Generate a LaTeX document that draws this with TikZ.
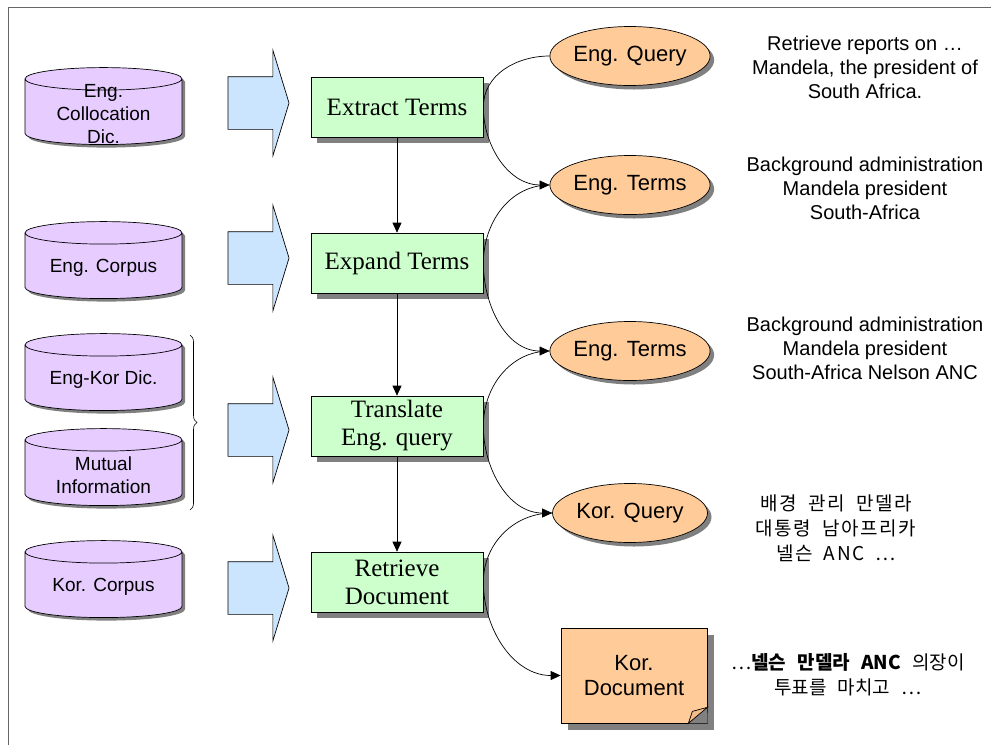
\documentclass[tikz,border=0pt]{standalone}
\usepackage{fontspec}
\setmainfont{Liberation Sans}
\newfontfamily\boxserif{Liberation Serif}
\newfontfamily\kor{Noto Sans CJK KR}
\usepackage{xcolor}
\usepackage{tikz}
\usetikzlibrary{shapes.geometric, shapes.arrows, arrows.meta, positioning, shadows, decorations.pathreplacing}
\definecolor{DBPurple}{RGB}{230,204,255}
\definecolor{StepGreen}{RGB}{204,255,204}
\definecolor{FeedBlue}{RGB}{204,229,255}
\definecolor{DataOrange}{RGB}{255,204,153}
\definecolor{FrameGray}{RGB}{102,102,102}
\newcommand{\korfont}{\kor\fontsize{19}{25}\selectfont\spaceskip=0.6em plus 0.1em\relax}
\tikzset{
    dbcyl/.style={cylinder, shape border rotate=90, aspect=0.15, draw, line width=0.7pt,
        fill=DBPurple, minimum width=157pt, minimum height=77pt,
        inner xsep=75pt, inner ysep=0pt,
        drop shadow={shadow xshift=3pt, shadow yshift=-3pt, fill=black!50, opacity=1}},
    dbtext/.style={align=center, inner sep=0pt, yshift=3.5pt, font=\fontsize{19}{23}\selectfont},
    feedarrow/.style={single arrow, draw, line width=0.7pt, fill=FeedBlue,
        inner xsep=0pt, inner ysep=26pt, minimum width=105pt, minimum height=61pt,
        single arrow head extend=26.5pt, single arrow tip angle=146},
    stepbox/.style={rectangle, draw, line width=0.7pt, fill=StepGreen,
        minimum width=172pt, minimum height=60pt, inner sep=0pt,
        align=center, font=\boxserif\fontsize{25}{28}\selectfont,
        drop shadow={shadow xshift=6pt, shadow yshift=-6pt, fill=black!50, opacity=1}},
    databall/.style={ellipse, draw, line width=0.7pt, fill=DataOrange,
        minimum width=155pt, minimum height=59pt, inner sep=0pt,
        font=\fontsize{22}{25}\selectfont,
        drop shadow={shadow xshift=4pt, shadow yshift=-4pt, fill=black!50, opacity=1}},
    docbox/.style={rectangle, draw, line width=0.7pt, fill=DataOrange,
        minimum width=146pt, minimum height=95pt, inner sep=0pt,
        align=center, font=\fontsize{22}{25}\selectfont,
        drop shadow={shadow xshift=7pt, shadow yshift=-7pt, fill=black!50, opacity=1}},
    notetext/.style={align=center, font=\fontsize{20}{24}\selectfont},
    kornote/.style={align=center, font=\korfont},
    flowarrow/.style={-{Triangle[length=10pt, width=9pt]}, line width=0.7pt},
    linkline/.style={line width=0.7pt},
}

\begin{document}
\begin{tikzpicture}[x=1pt, y=1pt]
    \useasboundingbox (0,0) rectangle (991,-745);
    % frame
    \draw[FrameGray, line width=1.5pt] (8.5,-745) -- (8.5,-7.5) -- (991,-7.5);

    % resources on the left
    \node[dbcyl, label={[dbtext]center:Eng.\\Collocation\\Dic.}] (colloc) at (103.5,-117.5) {};
    \node[dbcyl, label={[dbtext]center:Eng. Corpus}] (engcorpus) at (103.5,-271.5) {};
    \node[dbcyl, label={[dbtext]center:Eng-Kor Dic.}] (engkor) at (103.5,-383.5) {};
    \node[dbcyl, label={[dbtext]center:Mutual\\Information}] (mutual) at (103.5,-478.5) {};
    \node[dbcyl, label={[dbtext]center:Kor. Corpus}] (korcorpus) at (103.5,-590.5) {};
    \draw[decorate, decoration={brace, amplitude=7pt}, line width=0.6pt]
        (190,-335) -- (190,-510);

    % feeding arrows
    \node[feedarrow] (feed1) at (254.5,-103) {};
    \node[feedarrow] (feed2) at (254.5,-258) {};
    \node[feedarrow] (feed3) at (254.5,-430) {};
    \node[feedarrow] (feed4) at (254.5,-588) {};

    % processing steps
    \node[stepbox] (extract) at (397,-107) {Extract Terms};
    \node[stepbox] (expand) at (397,-263) {Expand Terms};
    \node[stepbox] (translate) at (397,-426) {Translate\\Eng. query};
    \node[stepbox] (retrieve) at (397,-582) {Retrieve\\Document};

    \draw[flowarrow] (extract) -- (expand);
    \draw[flowarrow] (expand) -- (translate);
    \draw[flowarrow] (translate) -- (retrieve);

    % intermediate data
    \node[databall] (engquery) at (630,-56) {Eng. Query};
    \node[databall] (engterms) at (630,-185) {Eng. Terms};
    \node[databall] (engterms2) at (630,-351) {Eng. Terms};
    \node[databall] (korquery) at (630,-513) {Kor. Query};
    \node[docbox] (kordoc) at (634,-675.5) {Kor.\\Document};
    \fill[black!50] ([yshift=16pt]kordoc.south east) -- ([xshift=0.4pt]kordoc.south east)
        -- ([xshift=-19pt]kordoc.south east) -- cycle;
    \draw[fill=DataOrange!80!brown, line width=0.7pt] ([yshift=16pt]kordoc.south east)
        -- ([xshift=-15pt, yshift=12pt]kordoc.south east) -- ([xshift=-19pt]kordoc.south east) -- cycle;

    % inputs and outputs of each step
    \draw[linkline] (extract.east) to[out=90, in=180] (engquery.west);
    \draw[linkline, flowarrow] (extract.east) to[out=-90, in=180] (engterms.west);
    \draw[linkline] (expand.east) to[out=90, in=180] (engterms.west);
    \draw[linkline, flowarrow] (expand.east) to[out=-90, in=180] (engterms2.west);
    \draw[linkline] (translate.east) to[out=90, in=180] (engterms2.west);
    \draw[linkline, flowarrow] (translate.east) to[out=-90, in=180] (korquery.west);
    \draw[linkline] (retrieve.east) to[out=90, in=180] (korquery.west);
    \draw[linkline, flowarrow] (retrieve.east) to[out=-90, in=180] (kordoc.west);

    % example texts
    \node[notetext] (note1) at (865,-67) {Retrieve reports on \dots\\Mandela, the president of\\South Africa.};
    \node[notetext] (note2) at (865,-188) {Background administration\\Mandela president\\South-Africa};
    \node[notetext] (note3) at (865,-348) {Background administration\\Mandela president\\South-Africa Nelson ANC};
    \node[kornote, font=\korfont\addfontfeature{LetterSpace=8}] (note4) at (836,-528)
        {배경 관리 만델라\\대통령 남아프리카\\넬슨 ANC …};
    \node[kornote] (note5) at (848,-675) {…\textbf{넬슨 만델라 ANC} 의장이\\투표를 마치고 …};
\end{tikzpicture}
\end{document}
